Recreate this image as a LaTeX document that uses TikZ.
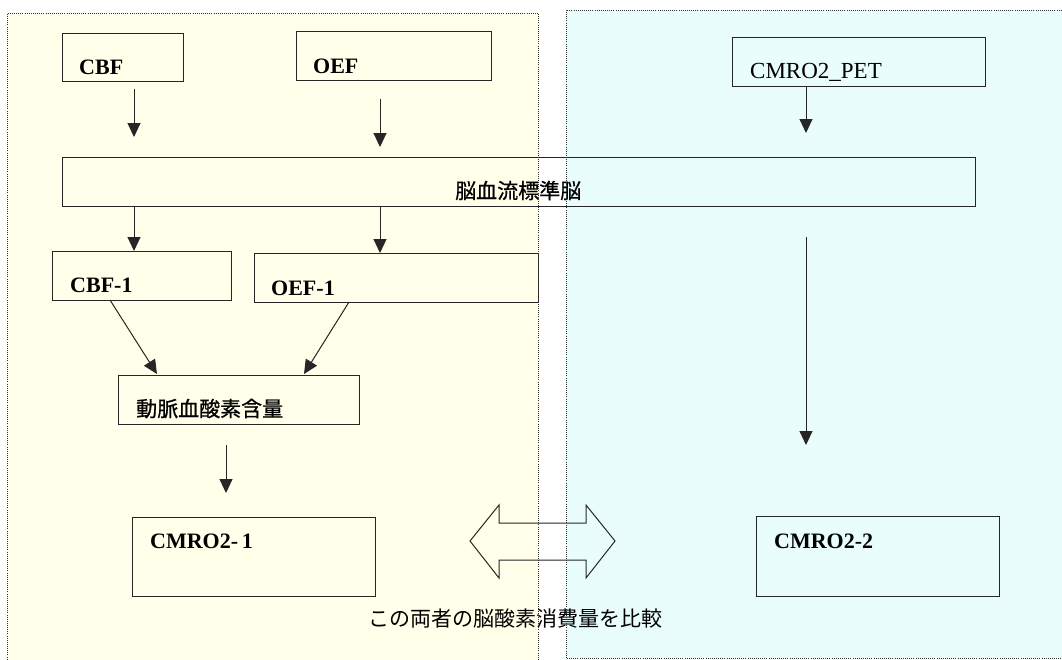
\documentclass[tikz,border=0pt]{standalone}
\usepackage{fontspec}
\setmainfont{Liberation Serif}
\newfontfamily\jpfont{Noto Sans CJK JP}
\newfontfamily\jpboldfont[FakeBold=0.8]{Noto Sans CJK JP}
\usetikzlibrary{arrows.meta}
\definecolor{yellowbg}{HTML}{FFFFEA}
\definecolor{cyanbg}{HTML}{EAFDFD}
\begin{document}
\begin{tikzpicture}[x=1pt,y=-1pt,
  box/.style={draw=black!85, line width=1.1pt, rectangle, inner sep=0pt, anchor=north west},
  lbl/.style={anchor=base west, inner sep=0pt, font=\fontsize{22}{25}\selectfont\bfseries},
  lblr/.style={anchor=base west, inner sep=0pt, font=\fontsize{23}{26}\selectfont},
  jp/.style={inner sep=0pt, anchor=base, font=\jpfont\fontsize{21}{24}\selectfont},
  jpb/.style={inner sep=0pt, font=\jpboldfont\fontsize{21}{24}\selectfont},
  arr/.style={-{Triangle[width=13pt,length=14pt]}, line width=1pt, draw=black!85},
  region/.style={draw=black!80, dash pattern=on 0.9pt off 1.2pt, line width=0.9pt},
  dbl/.style={draw=black!85, line width=1pt, line join=miter}]
\path[use as bounding box, fill=white] (0,0) rectangle (1062,659);
% regions (fills)
\fill[yellowbg] (7,13.5) rectangle (538.5,670);
\fill[cyanbg] (566,10) rectangle (1070,658);
% boxes
\node[box, minimum width=121pt, minimum height=48pt] (cbf) at (62,33) {};
\node[lbl] (cbft) at (79,74) {CBF};
\node[box, minimum width=195pt, minimum height=49pt] (oef) at (296,31) {};
\node[lbl] (oeft) at (313,73) {OEF};
\node[box, minimum width=253pt, minimum height=49pt] (pet) at (732,37) {};
\node[lblr] (pett) at (750,78) {CMRO2\_PET};
\node[box, minimum width=913pt, minimum height=49pt] (std) at (62,157) {};
\node[jpb, anchor=base west] (stdt) at (455,198.5) {脳血流標準脳};
\node[box, minimum width=179pt, minimum height=49pt] (cbf1) at (52,251) {};
\node[lbl] (cbf1t) at (70,292.5) {CBF-1};
\node[box, minimum width=284pt, minimum height=49pt] (oef1) at (254,253) {};
\node[lbl] (oef1t) at (271,295) {OEF-1};
\node[box, minimum width=241pt, minimum height=49pt] (art) at (118,375) {};
\node[jpb, anchor=base west] (artt) at (136,416.5) {動脈血酸素含量};
\node[box, minimum width=243pt, minimum height=79pt] (c1) at (132,517) {};
\node[lbl] (c1t) at (150,548) {CMRO2-\,1};
\node[box, minimum width=243pt, minimum height=80pt] (c2) at (756,516) {};
\node[lbl] (c2t) at (774,548) {CMRO2-2};
\node[jp, anchor=base west] (cmp) at (368,626) {この両者の脳酸素消費量を比較};
% arrow coordinates
\coordinate (a1s) at (134,89);
\coordinate (a1e) at (134,137);
\coordinate (a2s) at (380,99);
\coordinate (a2e) at (380,147);
\coordinate (a3e) at (806,133);
\coordinate (d1s) at (110,300);
\coordinate (d1e) at (157,374);
\coordinate (d2s) at (349,302);
\coordinate (d2e) at (304,374);
\coordinate (a4s) at (226,445);
\coordinate (a4e) at (226,493);
\coordinate (a5s) at (806,237);
\coordinate (a5e) at (806,445);
% connectors
\draw[arr] (a1s) -- (a1e);
\draw[arr] (a2s) -- (a2e);
\draw[arr] (pet.south -| a3e) -- (a3e);
\draw[arr] (std.south -| a1s) -- (cbf1.north -| a1s);
\draw[arr] (std.south -| a2s) -- (oef1.north -| a2s);
\draw[arr] (d1s) -- (d1e);
\draw[arr] (d2s) -- (d2e);
\draw[arr] (a4s) -- (a4e);
\draw[arr] (a5s) -- (a5e);
% double arrow
\draw[dbl] (470,541) -- (499,505) -- (499,523) -- (586,523) -- (586,505) -- (615,541)
  -- (586,578) -- (586,560) -- (499,560) -- (499,578) -- cycle;
% region borders
\draw[region] (7,670) -- (7,13.5) -- (538.5,13.5) -- (538.5,670);
\draw[region] (1070,10) -- (566,10) -- (566,658) -- (1070,658);
\end{tikzpicture}
\end{document}
